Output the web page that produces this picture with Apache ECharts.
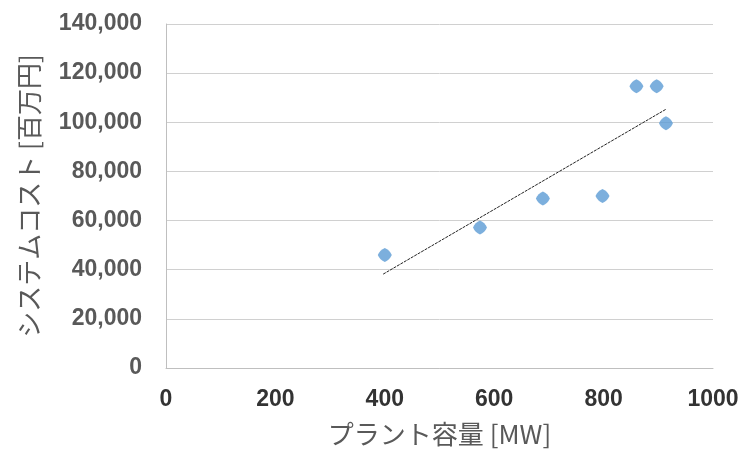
<!DOCTYPE html>
<html><head><meta charset="utf-8">
<script src="https://cdn.jsdelivr.net/npm/echarts@6/dist/echarts.min.js"></script>
<style>html,body{margin:0;padding:0;background:#fff}#c{width:742px;height:452px}</style>
</head><body><div id="c"></div>
<script>
const capacityMW = [400, 574, 689, 798, 860, 897, 914];
const systemCost = [46000, 57200, 69000, 70000, 114700, 114700, 99600];
const trendX = [397, 914];
const trendY = [38200, 105300];
const xTicks = [0, 200, 400, 600, 800, 1000];
const yTicks = [0, 20000, 40000, 60000, 80000, 100000, 120000, 140000];
const xTitle = 'プラント容量 [MW]';
const yTitle = 'システムコスト [百万円]';

const cjk = '"Noto Sans CJK JP", "Noto Sans", sans-serif';
const num = '"Liberation Sans", Arial, sans-serif';
const chart = echarts.init(document.getElementById('c'), null, {renderer: 'canvas'});
chart.setOption({
  animation: false,
  grid: {left: 166, right: 29, top: 24, bottom: 83, containLabel: false},
  xAxis: {
    type: 'value', min: xTicks[0], max: xTicks[xTicks.length-1], interval: 200,
    axisLine: {show: true, lineStyle: {color: '#bfbfbf', width: 1}},
    axisTick: {show: false}, splitLine: {show: false},
    axisLabel: {margin: 20, color: '#333333', fontSize: 23, fontWeight: 'bold', fontFamily: num,
      formatter: v => String(v)},
    name: xTitle, nameLocation: 'middle', nameGap: 53,
    nameTextStyle: {color: '#595959', fontSize: 26, fontFamily: cjk}
  },
  yAxis: {
    type: 'value', min: yTicks[0], max: yTicks[yTicks.length-1], interval: 20000,
    axisLine: {show: true, lineStyle: {color: '#bfbfbf', width: 1}},
    axisTick: {show: false},
    splitLine: {show: true, lineStyle: {color: '#d0d0d0', width: 1}},
    axisLabel: {margin: 24, color: '#595959', fontSize: 23, fontWeight: 'bold', fontFamily: num,
      padding: [3, 0, 0, 0], formatter: v => v.toLocaleString('en-US')},
    name: yTitle, nameLocation: 'middle', nameGap: 124, nameRotate: 90,
    nameTextStyle: {color: '#595959', fontSize: 26, fontFamily: cjk}
  },
  series: [
    {type: 'scatter', data: capacityMW.map((x, i) => [x, systemCost[i]]),
     symbol: 'path://M0,-10 Q7,-7 10,0 Q7,7 0,10 Q-7,7 -10,0 Q-7,-7 0,-10 Z',
     symbolSize: 14, itemStyle: {color: '#5b9bd5'}, z: 3},
    {type: 'line', data: trendX.map((x, i) => [x, trendY[i]]), showSymbol: false, symbol: 'none',
     lineStyle: {color: '#222222', width: 1, type: [3, 1]}, z: 2}
  ]
});
</script></body></html>
